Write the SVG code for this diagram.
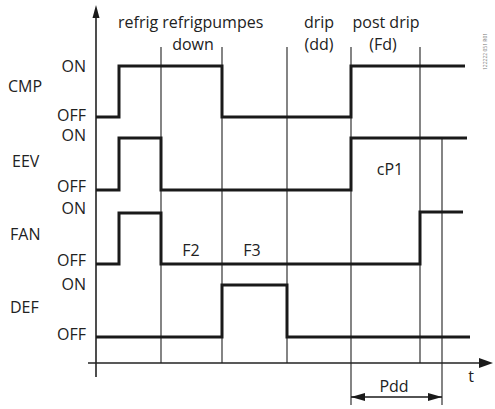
<svg xmlns="http://www.w3.org/2000/svg" width="495" height="409" viewBox="0 0 495 409">
<style>
text{font-family:"Open Sans","Liberation Sans",sans-serif;fill:#222;font-size:16px}
.lbl{text-anchor:end}
.grid{stroke:#333;stroke-width:1.2;fill:none}
.axis{stroke:#222;stroke-width:1.6;fill:none}
.sig{stroke:#1a1a1a;stroke-width:3;fill:none;stroke-linejoin:miter}
</style>
<defs>
<marker id="ah" viewBox="0 0 14 10" refX="14" refY="5" markerWidth="14" markerHeight="10" markerUnits="userSpaceOnUse" orient="auto-start-reverse">
<path d="M0,1 L14,5 L0,9 Z" fill="#1a1a1a"/>
</marker>
</defs>
<g id="connectors">
<g id="grid">
<line class="grid" x1="161" y1="47" x2="161" y2="363"/>
<line class="grid" x1="222" y1="47" x2="222" y2="363"/>
<line class="grid" x1="287" y1="47" x2="287" y2="363"/>
<line class="grid" x1="351" y1="47" x2="351" y2="405"/>
<line class="grid" x1="420" y1="47" x2="420" y2="363"/>
<line class="grid" x1="442" y1="137" x2="442" y2="405"/>
</g>
<g id="axes">
<path class="axis" d="M96,377 V16"/>
<path d="M96,5 L92.5,18 L99.5,18 Z" fill="#1a1a1a"/>
<path class="axis" d="M88,363 H481"/>
<path d="M493,363 L479,358 L479,368 Z" fill="#1a1a1a"/>
<line x1="351" y1="397" x2="442" y2="397" stroke="#1a1a1a" stroke-width="1.4" marker-start="url(#ah)" marker-end="url(#ah)"/>
</g>
<g id="signals">
<path class="sig" d="M96,117 H119 V66 H222 V117 H351 V66 H465"/>
<path class="sig" d="M96,190 H119 V138 H161 V190 H351 V138 H467"/>
<path class="sig" d="M96,264 H119 V213 H161 V264 H420 V212 H463" stroke-width="3.2"/>
<path class="sig" d="M96,337 H222 V285 H287 V337 H470"/>
</g>
</g>
<g id="cmp">
<text x="8" y="92">CMP</text>
<text class="lbl" x="86" y="72">ON</text>
<text class="lbl" x="86" y="121">OFF</text>
</g>
<g id="eev">
<text x="12" y="167">EEV</text>
<text class="lbl" x="86" y="141">ON</text>
<text class="lbl" x="86" y="192">OFF</text>
</g>
<g id="fan">
<text x="10" y="240">FAN</text>
<text class="lbl" x="86" y="214">ON</text>
<text class="lbl" x="86" y="266">OFF</text>
</g>
<g id="def">
<text x="10" y="313">DEF</text>
<text class="lbl" x="86" y="290">ON</text>
<text class="lbl" x="86" y="340">OFF</text>
</g>
<g id="phases">
<text x="118" y="28">refrig refrigpumpes</text>
<text x="193" y="50" text-anchor="middle">down</text>
<text x="319" y="28" text-anchor="middle">drip</text>
<text x="319" y="50" text-anchor="middle">(dd)</text>
<text x="386" y="28" text-anchor="middle">post drip</text>
<text x="383" y="50" text-anchor="middle">(Fd)</text>
</g>
<g id="params">
<text x="191" y="256" text-anchor="middle">F2</text>
<text x="252" y="256" text-anchor="middle">F3</text>
<text x="390" y="175" text-anchor="middle">cP1</text>
<text x="394" y="392" text-anchor="middle">Pdd</text>
<text x="471" y="382" text-anchor="middle">t</text>
</g>
<text x="0" y="0" transform="translate(487,70) rotate(-90)" style="font-size:5px;fill:#777">122222 051 R01</text>
</svg>
